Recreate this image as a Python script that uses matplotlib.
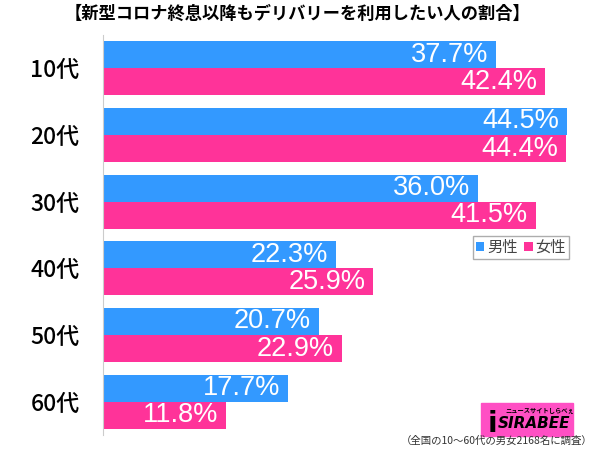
import numpy as np
import matplotlib.pyplot as plt
from matplotlib.patches import Rectangle

plt.rcParams['font.family'] = ['Noto Sans CJK JP', 'DejaVu Sans']

# data
ages = ["10代", "20代", "30代", "40代", "50代", "60代"]
male = [37.7, 44.5, 36.0, 22.3, 20.7, 17.7]
female = [42.4, 44.4, 41.5, 25.9, 22.9, 11.8]

blue = "#3399ff"
pink = "#ff3399"

W, H = 600, 449
fig = plt.figure(figsize=(6.0, 4.49), dpi=100)
ax = fig.add_axes([103 / W, 1 - 435 / H, (590 - 103) / W, 400 / H])

y = np.arange(len(ages))
h = 0.405
ax.barh(y - h / 2, male, height=h, color=blue, label="男性")
ax.barh(y + h / 2, female, height=h, color=pink, label="女性")

for yi, m, f in zip(y, male, female):
    ax.text(m - 0.75, yi - h / 2, f"{m:.1f}%", color="white", ha="right",
            va="center", fontsize=19.5, family=["Liberation Sans"])
    ax.text(f - 0.75, yi + h / 2, f"{f:.1f}%", color="white", ha="right",
            va="center", fontsize=19.5, family=["Liberation Sans"])

ax.set_xlim(0, 46.7)
ax.set_ylim(5.5, -0.5)
ax.set_yticks(y)
ax.set_yticklabels(ages, fontsize=16.5, fontweight="medium")
ax.tick_params(axis="y", length=0, pad=17)
ax.set_xticks([])
for s in ["top", "right", "bottom"]:
    ax.spines[s].set_visible(False)
ax.spines["left"].set_color("#cccccc")

leg = ax.legend(loc="upper left", bbox_to_anchor=((473 - 103) / 487, 1 - (236 - 35) / 400),
                ncol=2, fontsize=11, frameon=True, fancybox=False, handlelength=0.55,
                handleheight=0.55, handletextpad=0.2, columnspacing=0.4,
                borderpad=0.2, borderaxespad=0)
leg.get_frame().set_edgecolor("#999999")
leg.get_frame().set_linewidth(1)
for t in leg.get_texts():
    t.set_color("#444444")

fig.text(0.496, 1 - 14 / H, "【新型コロナ終息以降もデリバリーを利用したい人の割合】",
         ha="center", va="center", fontsize=12.4, fontweight="bold")

# logo
fig.patches.append(Rectangle((481 / W, 1 - 436 / H), 92 / W, 33 / H,
                             transform=fig.transFigure, color="#ff4fc4"))
fig.text(534 / W, 1 - 424 / H, "SIRABEE", ha="center", va="center", fontsize=11,
         fontweight="bold", style="italic", family=["DejaVu Sans"])
fig.text(492 / W, 1 - 424 / H, "i", ha="center", va="center", fontsize=20,
         fontweight="bold", family=["DejaVu Sans"])
fig.text(540 / W, 1 - 410 / H, "ニュースサイトしらべぇ", ha="center", va="center",
         fontsize=4.5, fontweight="bold")

fig.text(497 / W, 1 - 441 / H, "（全国の10～60代の男女2168名に調査）", ha="center",
         va="center", fontsize=7.5, color="#333333")

fig.savefig("out.png", dpi=100)
